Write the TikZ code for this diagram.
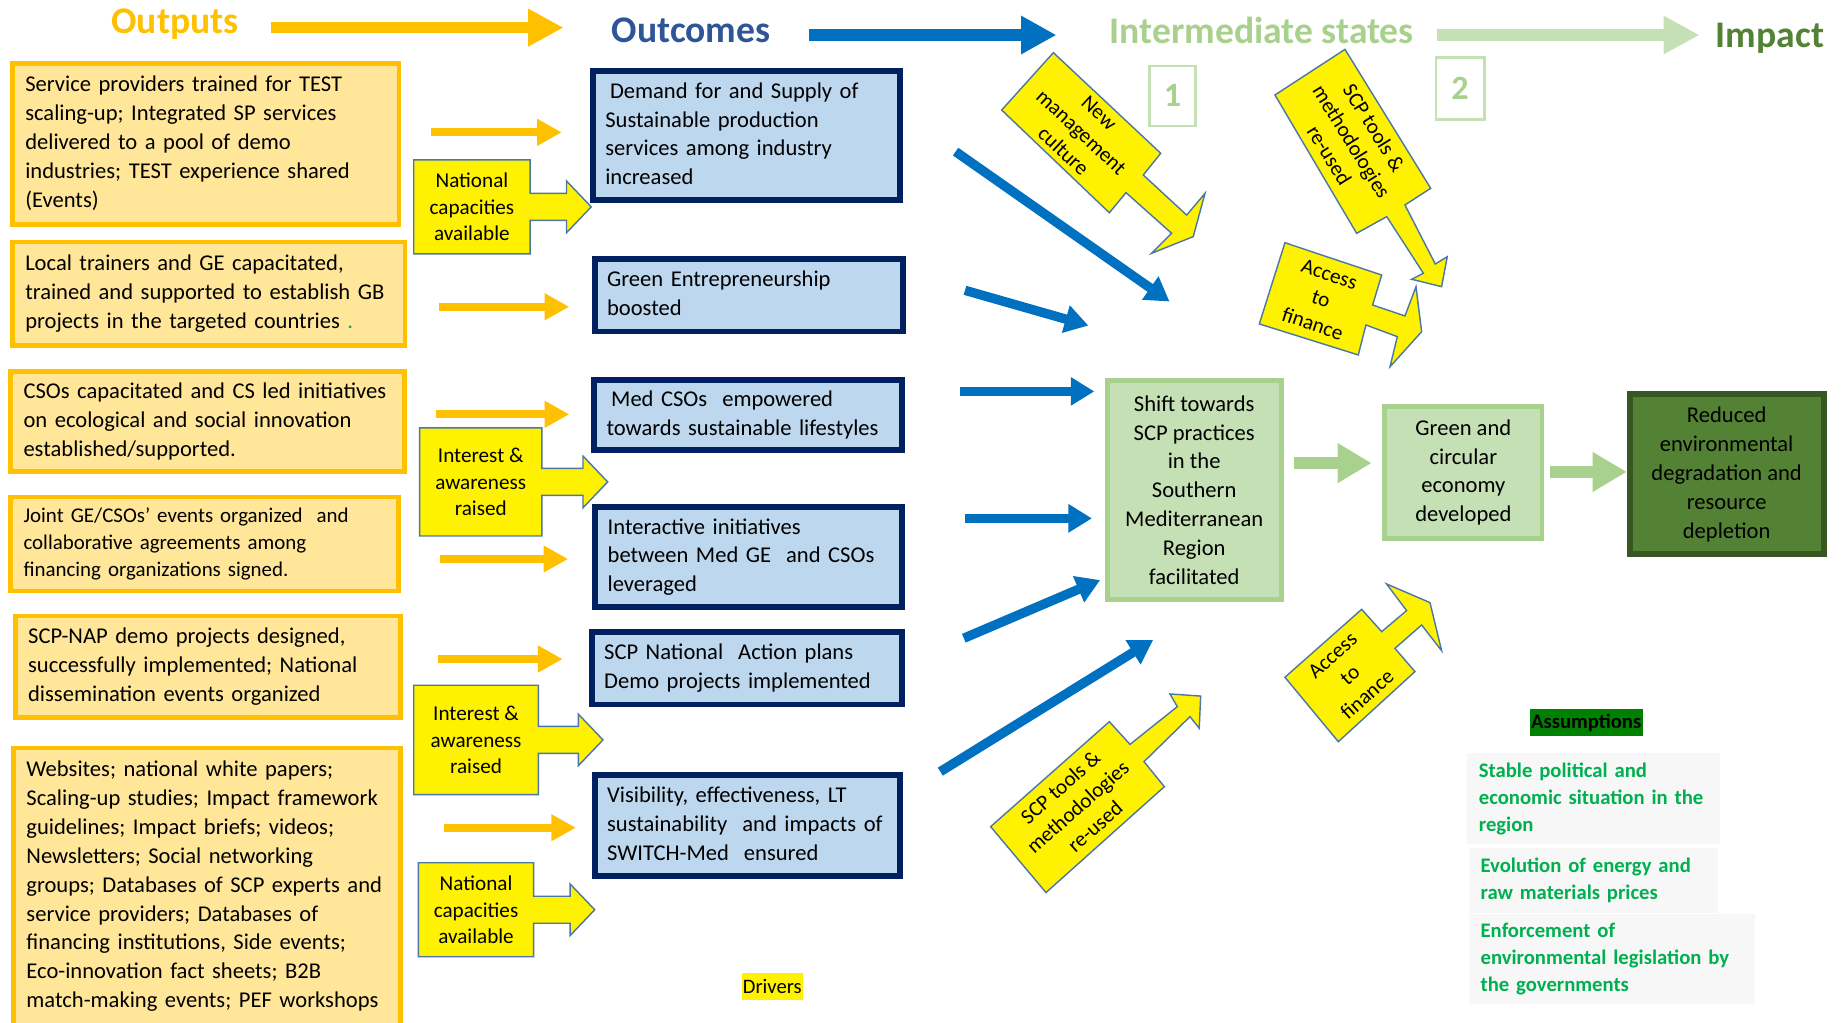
\documentclass[tikz,border=0pt]{standalone}
\usepackage{fontspec}
\setmainfont{Carlito}
\usetikzlibrary{arrows.meta}
\definecolor{outorange}{HTML}{FFC000}
\definecolor{outfill}{HTML}{FFE699}
\definecolor{outcblue}{HTML}{2F5597}
\definecolor{arrblue}{HTML}{0070C0}
\definecolor{boxblue}{HTML}{BDD7EE}
\definecolor{navy}{HTML}{002060}
\definecolor{palegreen}{HTML}{C5E0B4}
\definecolor{midgreen}{HTML}{A9D18E}
\definecolor{impgreen}{HTML}{548235}
\definecolor{deepgreen}{HTML}{385723}
\definecolor{callblue}{HTML}{4A76A8}
\definecolor{asmgreen}{HTML}{00B050}
\definecolor{asmlabel}{HTML}{008000}
\newcommand{\txtrows}[1]{\begin{tabular}{@{}l@{}}#1\end{tabular}}
\begin{document}
\begin{tikzpicture}[x=1pt,y=-1pt,
  txt/.style={font=\fontsize{19.2}{24.6}\selectfont},
  hdr/.style={anchor=base,font=\fontsize{32}{38}\selectfont\bfseries},
  outbox/.style={txt,draw=outorange,fill=outfill,line width=4pt,inner xsep=11pt,align=left},
  outcbox/.style={txt,draw=navy,fill=boxblue,line width=5pt,inner xsep=10.5pt,align=left},
  statebox/.style={txt,draw=midgreen,fill=palegreen,line width=4pt,align=center},
  numbox/.style={draw=palegreen,line width=2pt,text=midgreen,font=\fontsize{29}{34}\selectfont\bfseries},
  callout/.style={fill=yellow,draw=callblue,line width=1.2pt,line join=miter},
  calltext/.style={align=center,font=\fontsize{18}{22.3}\selectfont},
  asmbox/.style={fill=black!3,text=asmgreen,align=left,inner xsep=10pt,font=\fontsize{17.6}{23}\selectfont\bfseries},
  outarrow/.style={outorange,line width=7pt,-{Triangle[length=21pt,width=21.5pt]}},
  blarrow/.style={arrblue,line width=8pt,-{Triangle[length=20pt,width=23pt]}},
  grarrow/.style={midgreen,line width=10.5pt,-{Triangle[length=29pt,width=32pt]}}]
\useasboundingbox (0,0) rectangle (1568,870);
\clip (0,0) rectangle (1568,870);

\node[hdr,text=outorange] (outputs) at (148.9,28.4) {Outputs};
\node[hdr,text=outcblue] (outcomes) at (588,36.3) {Outcomes};
\node[hdr,text=midgreen] (interm) at (1073.5,37.4) {Intermediate states};
\node[hdr,text=impgreen] (impact) at (1505.9,40.6) {Impact};
\coordinate (h1a) at (230.4,23.5); \coordinate (h1b) at (479.4,23.5);
\coordinate (h2a) at (687.9,29.8); \coordinate (h2b) at (898.8,29.8);
\coordinate (h3a) at (1222.6,29.8); \coordinate (h3b) at (1446,29.8);
\draw[outorange,line width=9pt,-{Triangle[length=30pt,width=30pt]}] (h1a) -- (h1b);
\draw[arrblue,line width=10.5pt,-{Triangle[length=30pt,width=30.6pt]}] (h2a) -- (h2b);
\draw[palegreen,line width=10.5pt,-{Triangle[length=30.7pt,width=30.6pt]}] (h3a) -- (h3b);
\node[numbox,minimum width=39pt,minimum height=51pt] (one) at (997.5,81.5) {1};
\node[numbox,minimum width=41.5pt,minimum height=52.7pt] (two) at (1242.2,75.3) {2};

\node[outbox,minimum height=137pt,text width=307pt] (svc) at (175,122.5)
  {\txtrows{Service providers trained for TEST\\scaling-up; Integrated SP services\\delivered to a pool of demo\\industries; TEST experience shared\\(Events)}};
\node[outbox,minimum height=88pt,text width=312pt] (trainers) at (177.5,250)
  {\txtrows{Local trainers and GE capacitated,\\trained and supported to establish GB\\projects in the targeted countries {\color{asmgreen}.}}};
\node[outbox,minimum height=85pt,text width=313pt] (csos) at (176.5,358.5)
  {\txtrows{CSOs capacitated and CS led initiatives\\on ecological and social innovation\\established/supported.}};
\node[outbox,minimum height=80pt,text width=308pt,font=\fontsize{17.8}{23}\selectfont] (joint) at (174,462.8)
  {\txtrows{Joint GE/CSOs’ events organized\ \ and\\collaborative agreements among\\financing organizations signed.}};
\node[outbox,minimum height=86.6pt,text width=305.5pt] (nap) at (176.7,567.3)
  {\txtrows{SCP-NAP demo projects designed,\\successfully implemented; National\\dissemination events organized}};
\node[outbox,anchor=north,inner ysep=7pt,text width=307pt] (web) at (176,634.4)
  {\txtrows{Websites; national white papers;\\Scaling-up studies; Impact framework\\guidelines; Impact briefs; videos;\\Newsletters; Social networking\\groups; Databases of SCP experts and\\service providers; Databases of\\financing institutions, Side events;\\Eco-innovation fact sheets; B2B\\match-making events; PEF workshops\rule[-16pt]{0pt}{16pt}}};

\foreach \i/\xa/\xb/\yy in {1/367/478/112.6,2/373.4/484.4/261,3/370.7/484.4/352.5,4/374/483.4/475.6,5/372.7/478.7/560.7,6/377.5/490/704.2}{
  \coordinate (oa\i) at (\xa,\yy); \coordinate (ob\i) at (\xb,\yy);
  \draw[outarrow] (oa\i) -- (ob\i);}

\foreach \nm/\xa/\ya/\xb/\yb/\tip/\txt in {natcapA/352/136/451/216/503/{National\\capacities\\available},
    interestA/357/364/461/456/517/{Interest \&\\awareness\\raised},
    interestB/352/583/458/676/513/{Interest \&\\awareness\\raised},
    natcapB/356/734/454/814/506/{National\\capacities\\available}}{
  \pgfmathsetmacro{\cy}{(\ya+\yb)/2}
  \draw[callout] (\xa,\ya) -- (\xb,\ya) -- (\xb,\cy-11.5) -- (\tip-21,\cy-11.5) -- (\tip-21,\cy-22) -- (\tip,\cy)
    -- (\tip-21,\cy+22) -- (\tip-21,\cy+11.5) -- (\xb,\cy+11.5) -- (\xb,\yb) -- (\xa,\yb) -- cycle;
  \node[calltext] (\nm) at ({(\xa+\xb)/2},\cy) {\txt};}

\node[outcbox,minimum height=110pt,text width=240pt] (demand) at (635,115.5)
  {\txtrows{\hspace*{4pt}Demand for and Supply of\\Sustainable production\\services among industry\\increased}};
\node[outcbox,minimum height=62pt,text width=241pt] (greenent) at (637,251)
  {\txtrows{Green Entrepreneurship\\boosted}};
\node[outcbox,minimum height=60pt,text width=241pt] (medcso) at (636.5,353)
  {\txtrows{\hspace*{4pt}Med CSOs\ \ empowered\\towards sustainable lifestyles}};
\node[outcbox,minimum height=85pt,text width=240pt] (interact) at (637,474)
  {\txtrows{Interactive initiatives\\between Med GE\ \ and CSOs\\leveraged}};
\node[outcbox,minimum height=61.5pt,text width=243pt] (actplan) at (635.5,568.6)
  {\txtrows{SCP National\ \ Action plans\\Demo projects implemented}};
\node[outcbox,minimum height=86.5pt,text width=239pt] (visib) at (636,702.3)
  {\txtrows{Visibility, effectiveness, LT\\sustainability\ \ and impacts of\\SWITCH-Med\ \ ensured}};

\foreach \i/\xa/\ya/\xb/\yb in {1/813/129/995/256.5,2/821/247/926/277,3/817/333/931/333,4/821/441/929/441,5/820/543/936/493.5,6/800/656.5/981/544.5}{
  \coordinate (ba\i) at (\xa,\ya); \coordinate (bb\i) at (\xb,\yb);
  \draw[blarrow] (ba\i) -- (bb\i);}

\draw[callout] (896.2,44.8) -- (987.5,130.4) -- (972.7,148.9) -- (1009.6,183) -- (1025.2,164.5) -- (1015.2,201.3)
  -- (979.8,215.5) -- (996.8,198.5) -- (958,163.9) -- (943.8,181) -- (852.2,93.6) -- cycle;
\node[calltext,rotate=-43] (newmgmt) at (919.9,112.5) {New\\management\\culture};
\draw[callout] (1144.3,42) -- (1217.2,160.2) -- (1195.3,174.4) -- (1221.1,224.6) -- (1231.3,218.4) -- (1226.5,243.9)
  -- (1201,237.6) -- (1211,232.5) -- (1179.8,184.3) -- (1154.2,198.5) -- (1084.7,80.8) -- cycle;
\node[calltext,rotate=-58.3] (toolsA) at (1150.1,120.4) {SCP tools \&\\methodologies\\re-used};
\draw[callout] (1093.2,206.5) -- (1175.5,234) -- (1167.8,259.5) -- (1195.3,268.8) -- (1204.7,243.9) -- (1209.5,282.2)
  -- (1182.6,312) -- (1188.8,286.4) -- (1162.1,276.5) -- (1155.6,302) -- (1071.4,275.6) -- cycle;
\node[calltext,rotate=-18.5] (financeA) at (1123.9,254.5) {Access\\to\\finance};
\draw[callout] (1093.2,576.2) -- (1158.5,518.4) -- (1175.5,537.4) -- (1196.7,519.5) -- (1179.7,496.8) -- (1216.6,512.7)
  -- (1226.5,553.6) -- (1209.5,531.7) -- (1186.8,551.6) -- (1203.8,571.4) -- (1138.6,631) -- cycle;
\node[calltext,rotate=41.5] (financeB) at (1148.5,574.3) {Access\\to\\finance};
\draw[callout] (842.8,703.3) -- (943.8,614) -- (961.4,633.3) -- (1001.6,601.2) -- (995.4,590.4) -- (1021.5,592.2)
  -- (1020.3,619.6) -- (1012.4,609.7) -- (973.3,648) -- (990.6,669.3) -- (889.9,759.4) -- cycle;
\node[calltext,rotate=41.5] (toolsB) at (916.8,686.5) {SCP tools \&\\methodologies\\re-used};

\node[statebox,minimum width=148pt,minimum height=186pt] (shift) at (1016,417)
  {Shift towards\\SCP practices\\in the\\Southern\\Mediterranean\\Region\\facilitated};
\node[statebox,minimum width=134pt,minimum height=112pt] (circular) at (1245,402)
  {Green and\\circular\\economy\\developed};
\node[txt,draw=deepgreen,fill=impgreen,line width=5pt,align=center,minimum width=165pt,minimum height=136pt] (reduced) at (1469,403.5)
  {Reduced\\environmental\\degradation and\\resource\\depletion};
\coordinate (g1a) at (1101,394); \coordinate (g1b) at (1167,394);
\coordinate (g2a) at (1319,401.5); \coordinate (g2b) at (1384,401.5);
\draw[grarrow] (g1a) -- (g1b);
\draw[grarrow] (g2a) -- (g2b);

\node[fill=asmlabel,inner sep=0pt,minimum width=96pt,minimum height=23pt,font=\fontsize{17.5}{21}\selectfont\bfseries] (asm) at (1349.5,615) {Assumptions};
\node[asmbox,anchor=west,text width=195pt,minimum height=77pt] (asmA) at (1248,679.5)
  {\txtrows{Stable political and\\economic situation in the\\region}};
\node[asmbox,anchor=west,text width=192pt,minimum height=55pt] (asmB) at (1249.5,749)
  {\txtrows{Evolution of energy and\\raw materials prices}};
\node[asmbox,anchor=west,text width=223.5pt,minimum height=77pt] (asmC) at (1249.5,816)
  {\txtrows{Enforcement of\\environmental legislation by\\the governments}};
\node[fill=yellow,inner sep=0pt,minimum width=51.5pt,minimum height=22.8pt,font=\fontsize{17.5}{21}\selectfont] (drivers) at (657,839.4) {Drivers};
\end{tikzpicture}
\end{document}
